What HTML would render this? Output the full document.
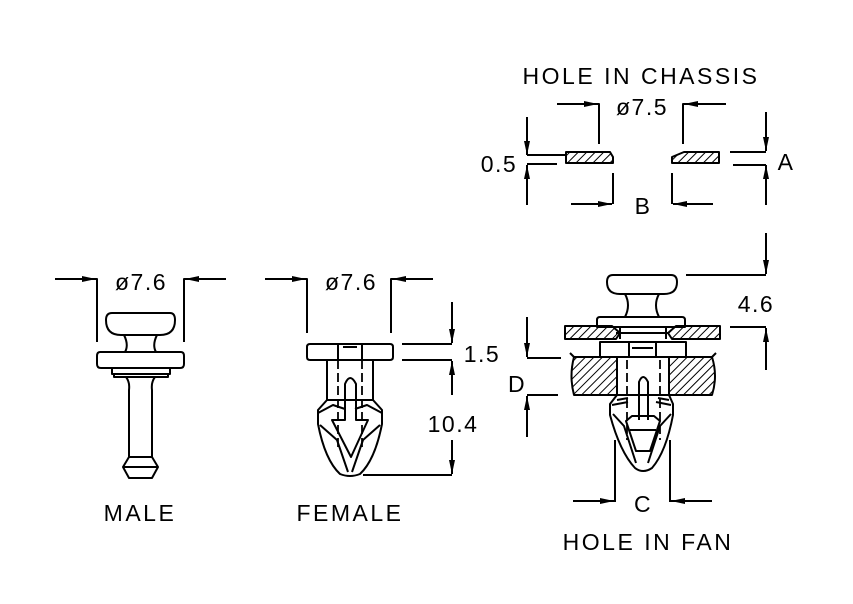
<!DOCTYPE html>
<html><head><meta charset="utf-8"><style>
html,body{margin:0;padding:0;background:#fff}
svg{display:block}
text{font-family:"Liberation Sans",sans-serif;font-size:23px;fill:#000;text-anchor:middle;letter-spacing:1.5px}
</style></head><body>
<svg width="853" height="604" viewBox="0 0 853 604" xmlns="http://www.w3.org/2000/svg">
<defs>
<pattern id="h" patternUnits="userSpaceOnUse" width="6" height="6" patternTransform="rotate(45)">
<line x1="0" y1="0" x2="0" y2="6" stroke="#000" stroke-width="2"/>
</pattern>
<marker id="b" viewBox="0 0 14 6" refX="14" refY="3" markerWidth="14" markerHeight="6" orient="auto" markerUnits="userSpaceOnUse">
<path d="M0,0 L14,3 L0,6 z" fill="#000"/>
</marker>
</defs>
<g fill="none" stroke="#000" stroke-width="2" stroke-linejoin="round">

<!-- HOLE IN CHASSIS -->
<line x1="557" y1="104" x2="598" y2="104" marker-end="url(#b)"/>
<polyline points="598,104 599,104 599,144"/>
<line x1="726" y1="104" x2="684" y2="104" marker-end="url(#b)"/>
<polyline points="684,104 683,104 683,144"/>
<path d="M566,152 H610 L613,157 V163 H566 Z" fill="url(#h)"/>
<path d="M672,163 V157 L684,152 H719 V163 Z" fill="url(#h)"/>
<line x1="527" y1="117" x2="527" y2="155" marker-end="url(#b)"/>
<line x1="527" y1="205" x2="527" y2="165" marker-end="url(#b)"/>
<line x1="527" y1="155" x2="566" y2="155"/>
<line x1="527" y1="164" x2="557" y2="164"/>
<line x1="766" y1="112" x2="766" y2="151" marker-end="url(#b)"/>
<line x1="766" y1="205" x2="766" y2="165" marker-end="url(#b)"/>
<line x1="730" y1="152" x2="766" y2="152"/>
<line x1="733" y1="165" x2="766" y2="165"/>
<line x1="613" y1="173" x2="613" y2="204"/>
<line x1="571" y1="204" x2="612" y2="204" marker-end="url(#b)"/>
<line x1="672" y1="173" x2="672" y2="204"/>
<line x1="713" y1="204" x2="673" y2="204" marker-end="url(#b)"/>

<!-- MALE -->
<line x1="55" y1="279" x2="96" y2="279" marker-end="url(#b)"/>
<polyline points="96,279 97,279 97,342"/>
<line x1="226" y1="279" x2="185" y2="279" marker-end="url(#b)"/>
<polyline points="185,279 184,279 184,342"/>
<path d="M112,313 H170 Q175,313 175,320 Q175,335 160,335 H121 Q106,335 106,320 Q106,313 112,313 Z"/>
<path d="M124,335 Q129,345 125,352 M157,335 Q152,345 156,352"/>
<path d="M100,352 H181 Q184,352 184,356 V364 Q184,368 180,368 H101 Q97,368 97,364 V356 Q97,352 100,352 Z"/>
<path d="M112,368 V374 H170 V368 M114,374 V377 H168 V374"/>
<path d="M126,377 Q130,382 129,390 V457 M155,377 Q151,382 152,390 V457"/>
<path d="M129,457 L123,467 L129,478 H152 L158,467 L152,457 Z M123,467 H158"/>

<!-- FEMALE -->
<line x1="265" y1="279" x2="306" y2="279" marker-end="url(#b)"/>
<polyline points="306,279 307,279 307,333"/>
<line x1="433" y1="279" x2="392" y2="279" marker-end="url(#b)"/>
<polyline points="392,279 391,279 391,333"/>
<path d="M310,344 H390 Q393,344 393,347 V357 Q393,360 390,360 H310 Q307,360 307,357 V347 Q307,344 310,344 Z"/>
<path d="M338,344 V360 M362,344 V360 M343,347 H357"/>
<path d="M327,360 V400 M373,360 V400"/>
<path d="M338,360 V450 M362,360 V450" stroke-dasharray="9,4" stroke-width="1.8"/>
<path d="M327,400 L318,410 L318,424 Q325,460 340,474 Q350,478 360,474 Q375,460 382,424 L382,410 L373,400 Z"/>
<path d="M318,413 L333,405 L345,409 M382,413 L367,405 L355,409"/>
<path d="M320,425 L337,440 L348,472 M380,425 L363,440 L352,472"/>
<path d="M345,420 V384 Q350,372 356,384 V420 H368 L351,457 L332,420 Z"/>
<line x1="452" y1="302" x2="452" y2="343" marker-end="url(#b)"/>
<line x1="402" y1="344" x2="452" y2="344"/>
<line x1="402" y1="360" x2="452" y2="360"/>
<line x1="452" y1="395" x2="452" y2="361" marker-end="url(#b)"/>
<line x1="452" y1="440" x2="452" y2="474" marker-end="url(#b)"/>
<line x1="363" y1="475" x2="452" y2="475"/>

<!-- ASSEMBLY -->
<path d="M613,275 H671 Q677,275 677,282 Q677,294 664,294 H620 Q607,294 607,282 Q607,275 613,275 Z"/>
<path d="M625,294 Q631,305 625,317 M659,294 Q653,305 659,317"/>
<path d="M600,317 H682 Q685,317 685,320 V327 H597 V320 Q597,317 600,317 Z"/>
<path d="M565,326 H612 L620,333 L616,339 H565 Z" fill="url(#h)"/>
<path d="M672,339 L668,333 L676,326 H720 V339 Z" fill="url(#h)"/>
<path d="M616,333 H668 M620,339 V327 M666,339 V327"/>
<path d="M600,342 H686 V357 H600 Z"/>
<path d="M629,342 V357 M656,342 V357 M632,348 H653"/>
<path d="M574,357 H617 V395 H574 Q569,376 574,357 Z" fill="url(#h)"/>
<path d="M669,357 H712 Q718,376 712,395 H669 Z" fill="url(#h)"/>
<path d="M570,353 L574,357 M716,353 L712,357"/>
<path d="M617,357 V395 M669,357 V395"/>
<path d="M627,360 V440 M660,360 V440" stroke-dasharray="9,4" stroke-width="1.8"/>
<path d="M617,395 L610,404 L610,415 Q620,452 635,468 Q643,474 652,468 Q666,452 673,415 L673,404 L669,395 Z"/>
<path d="M617,400 L628,398 M669,400 L658,398 M612,405 L628,402 M671,405 L656,402"/>
<path d="M613,414 L624,426 L636,463 M671,414 L660,426 L648,463"/>
<path d="M639,420 V382 Q643,372 648,382 V420"/>
<path d="M626,421 L632,416 H654 L660,421 L650,451 H636 Z M630,430 H656"/>
<line x1="766" y1="233" x2="766" y2="274" marker-end="url(#b)"/>
<line x1="686" y1="275" x2="766" y2="275"/>
<line x1="730" y1="327" x2="766" y2="327"/>
<line x1="766" y1="370" x2="766" y2="328" marker-end="url(#b)"/>
<line x1="527" y1="317" x2="527" y2="357" marker-end="url(#b)"/>
<line x1="527" y1="358" x2="561" y2="358"/>
<line x1="527" y1="395" x2="558" y2="395"/>
<line x1="527" y1="437" x2="527" y2="396" marker-end="url(#b)"/>
<line x1="615" y1="440" x2="615" y2="502"/>
<line x1="670" y1="440" x2="670" y2="502"/>
<line x1="573" y1="501" x2="614" y2="501" marker-end="url(#b)"/>
<line x1="712" y1="501" x2="671" y2="501" marker-end="url(#b)"/>
</g>

<g>
<text x="641" y="84" style="letter-spacing:2.5px">HOLE IN CHASSIS</text>
<text x="642" y="115">ø7.5</text>
<text x="499" y="172">0.5</text>
<text x="786" y="170">A</text>
<text x="643" y="214">B</text>
<text x="141" y="290">ø7.6</text>
<text x="351" y="290">ø7.6</text>
<text x="482" y="362">1.5</text>
<text x="453" y="432">10.4</text>
<text x="756" y="312">4.6</text>
<text x="517" y="392">D</text>
<text x="643" y="512">C</text>
<text x="140" y="521" style="letter-spacing:2.5px">MALE</text>
<text x="350" y="521" style="letter-spacing:2.5px">FEMALE</text>
<text x="648" y="550" style="letter-spacing:2.5px">HOLE IN FAN</text>
</g>
</svg>
</body></html>
